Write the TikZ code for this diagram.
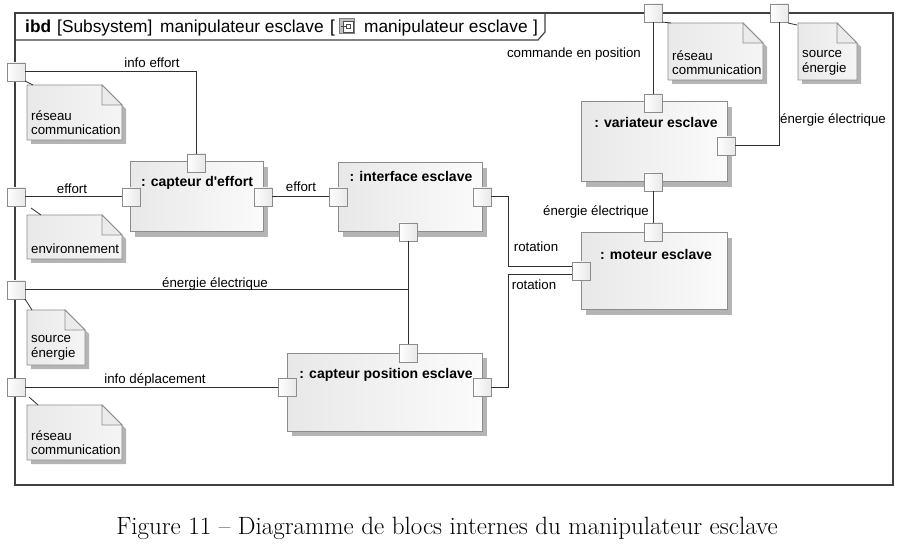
\documentclass[tikz,border=0pt]{standalone}
\usepackage{fontspec}
\newfontfamily\lsans[Ligatures=TeXOff]{Liberation Sans}
\usetikzlibrary{calc,shadows}
\definecolor{bordergray}{HTML}{8C8C8C}
\definecolor{shadowgray}{HTML}{B4B4B4}
\definecolor{linecol}{HTML}{303030}
\definecolor{framecol}{HTML}{404040}
\definecolor{fillA}{HTML}{E8E8E8}
\definecolor{fillB}{HTML}{FBFBFB}
\definecolor{noteA}{HTML}{E9E9E9}
\definecolor{noteB}{HTML}{F5F5F5}
\tikzset{
  x=1pt, y=-1pt,
  frame/.style={draw=framecol, line width=1.2pt},
  block/.style={draw=bordergray, line width=1pt, left color=fillA, right color=fillB,
    drop shadow={shadow xshift=5pt, shadow yshift=-5pt, fill=shadowgray, opacity=1}, inner sep=0pt},
  btitle/.style={font=\lsans\bfseries\fontsize{14}{16}\selectfont, inner sep=0pt},
  port/.style={draw=bordergray, line width=0.9pt, left color=white, right color=fillA,
    minimum size=18pt, inner sep=0pt, outer sep=0pt},
  conn/.style={draw=linecol, line width=1pt},
  lbl/.style={font=\lsans\fontsize{13.3}{15}\selectfont, inner sep=0pt},
  notetext/.style={font=\lsans\fontsize{13.3}{14.6}\selectfont, inner sep=0pt, align=left},
  notesh/.style={fill=shadowgray},
  notebody/.style={draw=bordergray, line width=0.9pt, left color=noteA, right color=noteB},
  notefold/.style={draw=bordergray, line width=0.9pt, fill=white!92!black},
  noteline/.style={draw=linecol, line width=0.8pt},
  htext/.style={font=\lsans\fontsize{17.3}{19}\selectfont, inner sep=0pt, anchor=base west},
}
\newcommand\umlnote[4]{%
  \path (#2) coordinate (#1-nw) (#3) coordinate (#1-se);
  \path (#1-nw -| #1-se) coordinate (#1-ne) (#1-nw |- #1-se) coordinate (#1-sw);
  \fill[notesh] ([shift={(4pt,-4pt)}]#1-nw) -- ([shift={(-16pt,-4pt)}]#1-ne)
     -- ([shift={(4pt,-24pt)}]#1-ne) -- ([shift={(4pt,-4pt)}]#1-se) -- ([shift={(4pt,-4pt)}]#1-sw) -- cycle;
  \path[notebody] (#1-nw) -- ([xshift=-20pt]#1-ne) -- ([yshift=-20pt]#1-ne) -- (#1-se) -- (#1-sw) -- cycle;
  \path[notefold] ([xshift=-20pt]#1-ne) -- ([shift={(-20pt,-20pt)}]#1-ne) -- ([yshift=-20pt]#1-ne) -- cycle;
  \node[notetext, anchor=south west] (#1-t) at ([shift={(4pt,5pt)}]#1-sw) {#4};
}
\begin{document}
\begin{tikzpicture}
\useasboundingbox (0,0) rectangle (903,556);

% frame
\node[frame, minimum width=878pt, minimum height=472pt, inner sep=0pt, outer sep=0pt] (frame) at (454,249) {};
\draw[frame] (15,40) -- (538,40) -- (545,32) -- (545,13);
\node[htext, font=\lsans\bfseries\fontsize{17.3}{19}\selectfont] (hibd) at (25,33) {ibd};
\node[htext] (hsub) at (57,33) {[Subsystem]};
\node[htext] (hname) at (160,33) {manipulateur esclave};
\node[htext] (hbr) at (330,33) {[};
\node[draw=gray, line width=0.8pt, fill=black!25, minimum size=15pt, inner sep=0pt] (icon) at (347,26) {};
\draw[gray!60!black, fill=white, line width=0.6pt] (343,21) rectangle (353,32);
\draw[gray!60!black, line width=0.6pt] (341,26) -- (346,26) (346,24) rectangle (350,28);
\node[htext] (hname2) at (364,33) {manipulateur esclave};
\node[htext] (hbr2) at (533,33) {]};

% notes
\umlnote{n1}{27,85}{122,140}{réseau\\communication}
\umlnote{n2}{27,215}{122,259}{environnement}
\umlnote{n3}{27,310}{85,365}{source\\énergie}
\umlnote{n4}{27,405}{122,460}{réseau\\communication}
\umlnote{n5}{668,23}{763,80}{réseau\\communication}
\umlnote{n6}{798,23}{857,80}{source\\énergie}

% blocks
\node[block, minimum width=133pt, minimum height=70pt] (cde) at (196.5,197) {};
\node[block, minimum width=144pt, minimum height=69pt] (ie) at (410,197.5) {};
\node[block, minimum width=146pt, minimum height=80pt] (var) at (654,142) {};
\node[block, minimum width=146pt, minimum height=77pt] (mot) at (654,271.5) {};
\node[block, minimum width=195pt, minimum height=78pt] (cpe) at (384.5,392) {};
\node[btitle] (cde-t) at (197,183) {: capteur d'effort};
\node[btitle] (ie-t) at (411,176) {: interface esclave};
\node[btitle] (var-t) at (656,122) {: variateur esclave};
\node[btitle] (mot-t) at (656,254) {: moteur esclave};
\node[btitle] (cpe-t) at (386,375) {: capteur position esclave};

% ports
\node[port] (p1) at (16,72) {};
\node[port] (p2) at (16,197) {};
\node[port] (p3) at (16,290) {};
\node[port] (p4) at (16,387) {};
\node[port] (t1) at (653,13) {};
\node[port] (t2) at (779,13) {};
\node[port] (cet) at (196,163) {};
\node[port] (cel) at (131,197) {};
\node[port] (cer) at (263,197) {};
\node[port] (iel) at (338,197) {};
\node[port] (ier) at (482,197) {};
\node[port] (ieb) at (408,232) {};
\node[port] (vt) at (653,103) {};
\node[port] (vr) at (726,146) {};
\node[port] (vb) at (653,182) {};
\node[port] (mt) at (653,232) {};
\node[port] (ml) at (581,271) {};
\node[port] (cpt) at (408,353) {};
\node[port] (cpl) at (287,387) {};
\node[port] (cpr) at (482,387) {};

% connectors
\coordinate (rx) at (508,0);
\coordinate (jn) at (408,290);
\draw[conn] (p1.east) -| (cet.north);
\draw[conn] (p2.east) -- (cel.west);
\draw[conn] (cer.east) -- (iel.west);
\draw[conn] (ieb.south) -- (cpt.north);
\draw[conn] (p3.east) -- (jn);
\draw[conn] (p4.east) -- (cpl.west);
\draw[conn] (ier.east) -- (ier.east -| rx) |- ([yshift=4pt]ml.west);
\draw[conn] (cpr.east) -- (cpr.east -| rx) |- ([yshift=-4pt]ml.west);
\draw[conn] (t1.south) -- (vt.north);
\draw[conn] (t2.south) |- (vr.east);
\draw[conn] (vb.south) -- (mt.north);

% note anchors
\draw[noteline] (p1.south east) -- ([xshift=6pt]n1-nw);
\draw[noteline] ([shift={(6pt,-2pt)}]p2.south east) -- ([xshift=14pt]n2-nw);
\draw[noteline] (p3.south east) -- ([xshift=5pt]n3-nw);
\draw[noteline] ([shift={(4pt,-1pt)}]p4.south east) -- ([xshift=11pt]n4-nw);
\draw[noteline] (t1.south east) -- ([xshift=3pt]n5-nw);
\draw[noteline] ([yshift=-1pt]t2.south east) -- ([xshift=-1pt,yshift=-2pt]n6-nw);

% labels
\node[lbl] (l1) at (152,63) {info effort};
\node[lbl] (l2) at (72,189) {effort};
\node[lbl] (l3) at (301,187) {effort};
\node[lbl] (l4) at (215,284) {énergie électrique};
\node[lbl] (l5) at (155,380) {info déplacement};
\node[lbl] (l6) at (536,247) {rotation};
\node[lbl] (l7) at (534,285) {rotation};
\node[lbl] (l8) at (574,54) {commande en position};
\node[lbl] (l9) at (833,120) {énergie électrique};
\node[lbl] (l10) at (596,212) {énergie électrique};

% caption
\node[font=\fontsize{25}{30}\selectfont, anchor=base, inner sep=0pt] (caption) at (447,534)
  {Figure 11 – Diagramme de blocs internes du manipulateur esclave};
\end{tikzpicture}
\end{document}
